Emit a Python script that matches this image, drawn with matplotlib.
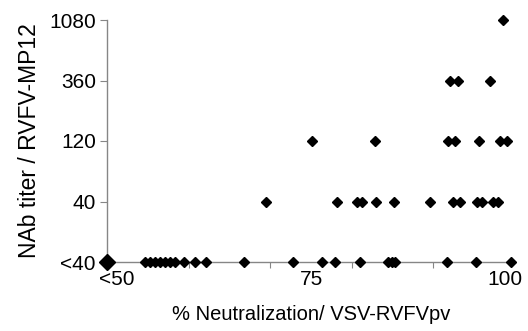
import matplotlib
matplotlib.use("Agg")
import matplotlib.pyplot as plt

plt.rcParams['font.family'] = ['Liberation Sans', 'DejaVu Sans']

# y levels: 0="<40", 1="40", 2="120", 3="360", 4="1080"
y_labels = ["<40", "40", "120", "360", "1080"]
x_label_text = ["<50", "75", "100"]

# % neutralization values per titer level
x_lt40 = [54.7, 55.3, 55.9, 56.5, 57.1, 57.7, 58.3, 59.4, 60.8, 62.1, 66.8,
          72.8, 76.3, 77.9, 81.0, 84.4, 84.9, 85.3, 91.7, 95.2, 99.5]
x_40 = [69.5, 78.2, 80.6, 81.2, 83.0, 85.2, 89.6, 92.4, 93.3, 95.3, 96.0, 97.3, 97.9]
x_120 = [75.1, 82.8, 91.8, 92.6, 95.6, 98.2, 99.0]
x_360 = [92.0, 93.0, 96.9]
x_1080 = [98.5]
x_origin = [50]  # "<50" / "<40" group

fig = plt.figure(figsize=(5.28, 3.31), dpi=100)
ax = fig.add_axes([107/528, 1-262/331, (515-107)/528, (262-20)/331])

groups = [(x_lt40, 0), (x_40, 1), (x_120, 2), (x_360, 3), (x_1080, 4)]
for xs, lvl in groups:
    ax.plot(xs, [lvl]*len(xs), linestyle='none', marker='D', markersize=5.6,
            color='black', clip_on=False, zorder=3)
ax.plot(x_origin, [0], linestyle='none', marker='D', markersize=8.5,
        color='black', clip_on=False, zorder=3)

ax.set_xlim(50, 100)
ax.set_ylim(0, 4)

for s in ['top', 'right']:
    ax.spines[s].set_visible(False)
for s in ['left', 'bottom']:
    ax.spines[s].set_color('#868686')
    ax.spines[s].set_linewidth(1.0)

ax.set_yticks(range(5))
ax.set_yticklabels(y_labels, fontsize=15)
ax.tick_params(axis='y', direction='out', length=5, color='#868686', pad=3)

ax.set_xticks([60, 70, 80, 90])
ax.set_xticklabels([])
ax.tick_params(axis='x', direction='out', length=4, color='#868686')
ax.set_xticks([51.2, 75.1, 98.8], minor=True)
ax.set_xticklabels(x_label_text, minor=True, fontsize=15)
ax.tick_params(axis='x', which='minor', length=0, pad=6)

ax.set_xlabel("% Neutralization/ VSV-RVFVpv", fontsize=14.5, labelpad=11)
ax.set_ylabel("NAb titer / RVFV-MP12", fontsize=16.5, labelpad=6)

fig.savefig("out.png", dpi=100)
